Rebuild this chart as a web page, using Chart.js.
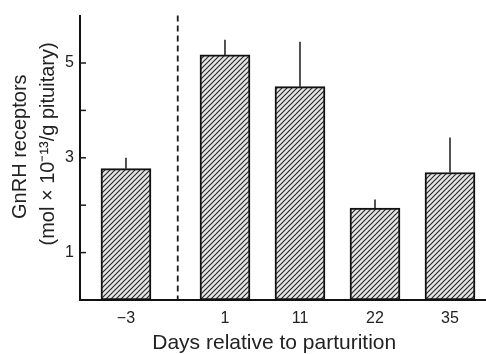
<!DOCTYPE html>
<html><head><meta charset="utf-8">
<script src="https://cdn.jsdelivr.net/npm/chart.js@4/dist/chart.umd.min.js"></script>
<style>html,body{margin:0;padding:0;background:#fff}#wrap{width:486px;height:354px}</style>
</head><body><div id="wrap"><canvas id="c" width="486" height="354"></canvas></div>
<script>
const categories = ['\u22123', '1', '11', '22', '35'];
const receptors = [2.77, 5.17, 4.5, 1.94, 2.69];
const sem = [0.23, 0.32, 0.95, 0.18, 0.74];
const yTickLabels = [1, 3, 5];
const yTitle = ['GnRH receptors', '(mol \u00d7 10\u207b\u00b9\u00b3/g pituitary)'];
const xTitle = 'Days relative to parturition';

const GAP = 0.32;        // extra space after the pre-partum bar
const DASH_POS = 0.69;   // dashed line (parturition)
const positions = categories.map((c, i) => i === 0 ? 0 : i + GAP);
const FONT = 'Liberation Sans, Arial, sans-serif';

function hatch() {
  const s = 5, cv = document.createElement('canvas');
  cv.width = s; cv.height = s;
  const g = cv.getContext('2d');
  g.fillStyle = '#e6e6e6'; g.fillRect(0, 0, s, s);
  g.strokeStyle = '#2a2a2a'; g.lineWidth = 1.2;
  g.beginPath();
  g.moveTo(-1, s + 1); g.lineTo(s + 1, -1);
  g.moveTo(-1, 1); g.lineTo(1, -1);
  g.moveTo(s - 1, s + 1); g.lineTo(s + 1, s - 1);
  g.stroke();
  return g.createPattern(cv, 'repeat');
}

const extras = {
  id: 'extras',
  afterDatasetsDraw(chart) {
    const { ctx, chartArea, scales: { x, y } } = chart;
    ctx.save();
    ctx.strokeStyle = '#1a1a1a';
    ctx.lineWidth = 1.5;
    positions.forEach((p, i) => {
      const px = x.getPixelForValue(p);
      ctx.beginPath();
      ctx.moveTo(px, y.getPixelForValue(receptors[i]));
      ctx.lineTo(px, y.getPixelForValue(receptors[i] + sem[i]));
      ctx.stroke();
    });
    const dx = x.getPixelForValue(DASH_POS);
    ctx.lineWidth = 1.8;
    ctx.setLineDash([6, 4]);
    ctx.beginPath();
    ctx.moveTo(dx, chartArea.top);
    ctx.lineTo(dx, chartArea.bottom);
    ctx.stroke();
    ctx.setLineDash([]);
    ctx.lineWidth = 1.5;
    for (let v = 1; v <= 5; v++) {
      const py = y.getPixelForValue(v);
      ctx.beginPath();
      ctx.moveTo(chartArea.left, py);
      ctx.lineTo(chartArea.left + 6, py);
      ctx.stroke();
    }
    ctx.restore();
  }
};

new Chart(document.getElementById('c'), {
  type: 'bar',
  data: {
    datasets: [{
      data: positions.map((p, i) => ({ x: p, y: receptors[i] })),
      backgroundColor: hatch(),
      borderColor: '#111',
      borderWidth: 2,
      borderSkipped: false,
      barThickness: 50
    }]
  },
  options: {
    responsive: false,
    animation: false,
    layout: { padding: { top: 5, right: 0, left: 0, bottom: 0 } },
    plugins: { legend: { display: false }, tooltip: { enabled: false } },
    scales: {
      x: {
        type: 'linear',
        offset: false,
        min: -0.613, max: 4.8,
        afterBuildTicks: s => { s.ticks = positions.map(v => ({ value: v })); },
        afterFit: s => { s.height = 54; },
        grid: { display: false, drawTicks: false, tickLength: 0 },
        border: { display: true, color: '#111', width: 2 },
        ticks: {
          callback: v => { const i = positions.indexOf(v); return i >= 0 ? categories[i] : ''; },
          color: '#222', font: { family: FONT, size: 16 },
          padding: 9, maxRotation: 0, autoSkip: false
        },
        title: {
          display: true, text: xTitle + '   ', color: '#222',
          font: { family: FONT, size: 21, lineHeight: 1.0 },
          padding: { top: 0, bottom: 0 }
        }
      },
      y: {
        min: 0, max: 6,
        afterFit: s => { s.width = 80; },
        grid: { display: false, drawTicks: false, tickLength: 0 },
        border: { display: true, color: '#111', width: 2 },
        ticks: {
          stepSize: 1,
          callback: v => yTickLabels.includes(v) ? String(v) : '',
          color: '#222', font: { family: FONT, size: 16 },
          padding: 6
        },
        title: {
          display: true,
          text: ['    ' + yTitle[0], '     ' + yTitle[1]],
          color: '#222',
          font: { family: FONT, size: 20, lineHeight: 1.4 },
          padding: { top: 6, bottom: 0 }
        }
      }
    }
  },
  plugins: [extras]
});
</script></body></html>
